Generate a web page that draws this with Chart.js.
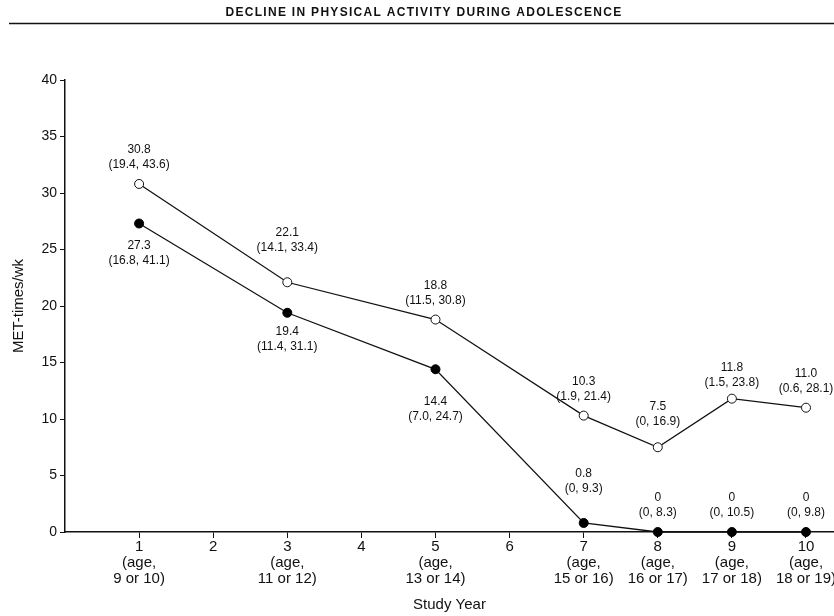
<!DOCTYPE html>
<html>
<head>
<meta charset="utf-8">
<style>
  html, body { margin: 0; padding: 0; background: #fff; }
  #wrap { width: 834px; height: 616px; }
</style>
<script src="https://cdn.jsdelivr.net/npm/chart.js@4/dist/chart.umd.min.js"></script>
</head>
<body>
<div id="wrap"><canvas id="chart" width="834" height="616"></canvas></div>
<script>
// --- data ---
const studyYears = [1, 3, 5, 7, 8, 9, 10];
const ageLabels = {1: '9 or 10)', 3: '11 or 12)', 5: '13 or 14)', 7: '15 or 16)', 8: '16 or 17)', 9: '17 or 18)', 10: '18 or 19)'};
const xTicks = [1, 2, 3, 4, 5, 6, 7, 8, 9, 10];
const yTicks = [0, 5, 10, 15, 20, 25, 30, 35, 40];

// open circles (upper line)
const openValues = [30.8, 22.1, 18.8, 10.3, 7.5, 11.8, 11.0];
const openLow = [19.4, 14.1, 11.5, 1.9, 0, 1.5, 0.6];
const openHigh = [43.6, 33.4, 30.8, 21.4, 16.9, 23.8, 28.1];

// filled circles (lower line)
const filledValues = [27.3, 19.4, 14.4, 0.8, 0, 0, 0];
const filledLow = [16.8, 11.4, 7.0, 0, 0, 0, 0];
const filledHigh = [41.1, 31.1, 24.7, 9.3, 8.3, 10.5, 9.8];

const FONT = "'Liberation Sans', Arial, sans-serif";
const INK = '#111';

// small extra distance (px) for some labels so they clear the lines
const openNudge = [0, 16, 0, 0, 7, -3, 0];
const filledNudge = [0, -3, 10, 15, 0, 0, 0];

function fmt(v) {
  return v === 0 ? '0' : v.toFixed(1);
}

// titulo + linha no topo
const headerPlugin = {
  id: 'header',
  afterDraw(chart) {
    const ctx = chart.ctx;
    ctx.save();
    ctx.fillStyle = INK;
    ctx.font = "bold 12px " + FONT;
    ctx.letterSpacing = '1.3px';
    ctx.textAlign = 'center';
    ctx.textBaseline = 'middle';
    ctx.fillText('DECLINE IN PHYSICAL ACTIVITY DURING ADOLESCENCE', 424, 13);
    ctx.letterSpacing = '0px';
    ctx.strokeStyle = INK;
    ctx.lineWidth = 1.5;
    ctx.beginPath();
    ctx.moveTo(9, 23.5);
    ctx.lineTo(834, 23.5);
    ctx.stroke();
    ctx.restore();
  }
};

// rotulos do eixo x (desenhados a parte para nao encolher a area do grafico)
const xLabelPlugin = {
  id: 'xLabels',
  afterDraw(chart) {
    const ctx = chart.ctx;
    const sx = chart.scales.x;
    const base = chart.chartArea.bottom;
    ctx.save();
    ctx.fillStyle = INK;
    ctx.font = "15px " + FONT;
    ctx.textAlign = 'center';
    ctx.textBaseline = 'middle';
    xTicks.forEach(v => {
      const px = sx.getPixelForValue(v);
      ctx.fillText(String(v), px, base + 15);
      if (ageLabels[v]) {
        ctx.fillText('(age,', px, base + 31);
        ctx.fillText(ageLabels[v], px, base + 47);
      }
    });
    ctx.restore();
  }
};

// rotulos com valor e intervalo
const labelPlugin = {
  id: 'pointLabels',
  afterDatasetsDraw(chart) {
    const ctx = chart.ctx;
    ctx.save();
    ctx.fillStyle = INK;
    ctx.font = "12px " + FONT;
    ctx.textAlign = 'center';
    ctx.textBaseline = 'middle';
    chart.data.datasets.forEach((ds, di) => {
      const meta = chart.getDatasetMeta(di);
      const nudge = ds.lowerSeries ? filledNudge : openNudge;
      meta.data.forEach((pt, i) => {
        const line1 = fmt(ds.values[i]);
        const line2 = '(' + fmt(ds.low[i]) + ', ' + fmt(ds.high[i]) + ')';
        const below = ds.lowerSeries && studyYears[i] <= 5;
        if (below) {
          const y0 = pt.y + 22 + nudge[i];
          ctx.fillText(line1, pt.x, y0);
          ctx.fillText(line2, pt.x, y0 + 15);
        } else {
          const y0 = pt.y - 19 - nudge[i];
          ctx.fillText(line1, pt.x, y0 - 15);
          ctx.fillText(line2, pt.x, y0);
        }
      });
    });
    ctx.restore();
  }
};

new Chart(document.getElementById('chart'), {
  type: 'line',
  data: {
    datasets: [
      {
        label: 'open',
        data: studyYears.map((x, i) => ({x: x, y: openValues[i]})),
        values: openValues, low: openLow, high: openHigh,
        borderColor: INK,
        borderWidth: 1.3,
        pointRadius: 4.5,
        pointBorderWidth: 1,
        pointBackgroundColor: '#fff',
        pointBorderColor: INK,
        clip: false
      },
      {
        label: 'filled',
        data: studyYears.map((x, i) => ({x: x, y: filledValues[i]})),
        values: filledValues, low: filledLow, high: filledHigh,
        lowerSeries: true,
        borderColor: INK,
        borderWidth: 1.3,
        pointRadius: 4.5,
        pointBorderWidth: 1,
        pointBackgroundColor: '#000',
        pointBorderColor: '#000',
        clip: false
      }
    ]
  },
  options: {
    responsive: false,
    animation: false,
    events: [],
    layout: { autoPadding: false, padding: { top: 80, right: 0, left: 6, bottom: 0 } },
    plugins: {
      legend: { display: false },
      tooltip: { enabled: false }
    },
    scales: {
      x: {
        type: 'linear',
        min: 0,
        max: 10.378,
        afterBuildTicks(scale) {
          scale.ticks = xTicks.map(v => ({value: v}));
        },
        afterFit(scale) {
          scale.height = 84;
          scale.paddingLeft = 0;
          scale.paddingRight = 0;
        },
        ticks: { display: false },
        grid: { drawOnChartArea: false, drawTicks: true, tickLength: 6, color: INK },
        border: { display: true, color: INK, width: 1.5 },
        title: {
          display: true,
          text: 'Study Year',
          color: INK,
          font: { family: FONT, size: 15 },
          padding: { top: 4, bottom: 2 }
        }
      },
      y: {
        min: 0,
        max: 40,
        afterBuildTicks(scale) {
          scale.ticks = yTicks.map(v => ({value: v}));
        },
        afterFit(scale) {
          scale.width = 59;
          scale.paddingTop = 0;
          scale.paddingBottom = 0;
        },
        ticks: {
          color: INK,
          font: { family: FONT, size: 14 },
          padding: 3
        },
        grid: { drawOnChartArea: false, drawTicks: true, tickLength: 5, color: INK },
        border: { display: true, color: INK, width: 1.5 },
        title: {
          display: true,
          text: 'MET-times/wk',
          color: INK,
          font: { family: FONT, size: 15 },
          padding: { top: 4, bottom: 0 }
        }
      }
    }
  },
  plugins: [headerPlugin, xLabelPlugin, labelPlugin]
});
</script>
</body>
</html>
